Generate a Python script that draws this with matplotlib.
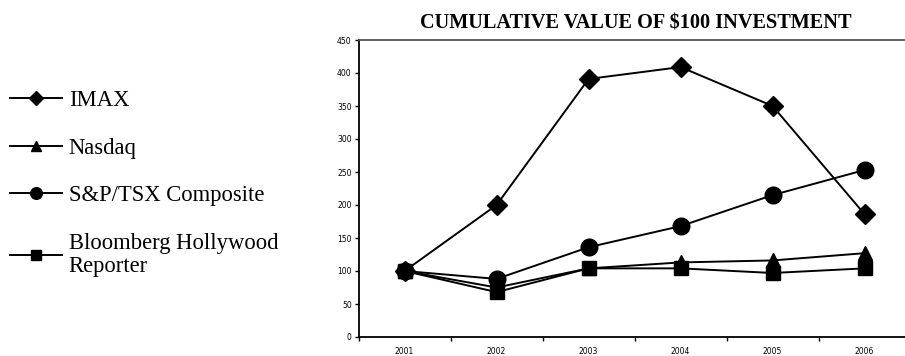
import numpy as np
import matplotlib.pyplot as plt
from matplotlib.lines import Line2D

# -------------------- data --------------------
years = ["2001", "2002", "2003", "2004", "2005", "2006"]
imax = [100, 200, 391, 409, 350, 186]
nasdaq = [100, 75, 104, 113, 116, 127]
sp_tsx = [100, 88, 136, 168, 215, 253]
bloomberg = [100, 68, 104, 104, 97, 104]

series_names = ["IMAX", "Nasdaq", "S&P/TSX Composite", "Bloomberg Hollywood\nReporter"]
series_values = [imax, nasdaq, sp_tsx, bloomberg]
series_markers = ["D", "^", "o", "s"]
marker_sizes = [10.5, 10, 12, 10]

# -------------------- figure --------------------
fig = plt.figure(figsize=(9.05, 3.56), dpi=100)
ax = fig.add_axes([358.6 / 905, 1 - 337 / 356, 552 / 905, 297 / 356])

x = np.arange(len(years))
for vals, mk, ms in zip(series_values, series_markers, marker_sizes):
    ax.plot(x, vals, color="black", lw=1.4, marker=mk, ms=ms,
            markerfacecolor="black", markeredgecolor="black")

ax.set_xlim(-0.5, len(years) - 0.5)
ax.set_ylim(0, 450)
ax.set_yticks(np.arange(0, 451, 50))
ax.tick_params(axis="y", direction="out", length=3, width=1, labelsize=5.5, pad=2)

# category boundaries get the tick marks, centers get the labels
ax.set_xticks(np.arange(-0.5, len(years), 1.0))
ax.set_xticklabels([])
ax.set_xticks(x, minor=True)
ax.set_xticklabels(years, minor=True, fontsize=5.5)
ax.tick_params(axis="x", which="major", direction="out", length=3, width=1)
ax.tick_params(axis="x", which="minor", length=0, pad=7)

for side in ["left", "bottom"]:
    ax.spines[side].set_linewidth(1.3)
ax.spines["top"].set_linewidth(1.3)
ax.spines["top"].set_color("#555555")
ax.spines["right"].set_visible(False)

fig.text(636 / 905, 1 - 24 / 356, "CUMULATIVE VALUE OF $100 INVESTMENT",
         family="Liberation Serif", fontweight="bold", fontsize=14.6,
         ha="center", va="center")

# -------------------- legend --------------------
handles = [Line2D([0], [0], color="black", lw=1.4, marker=mk, ms=ms * 0.7)
           for mk, ms in zip(series_markers, marker_sizes)]
leg = fig.legend(handles, series_names, loc="upper left",
                 bbox_to_anchor=(-6 / 905, 1 - 74 / 356), frameon=False,
                 prop={"family": "Liberation Serif", "size": 16.3},
                 handlelength=2.3, handletextpad=0.3, labelspacing=1.18,
                 borderaxespad=0.3)
for t in leg.get_texts():
    t.set_linespacing(1.12)

fig.savefig("out.png", dpi=100)
